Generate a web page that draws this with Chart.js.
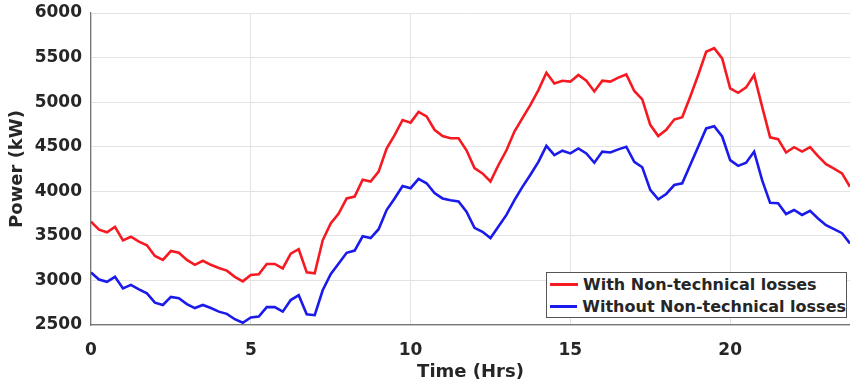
<!DOCTYPE html>
<html>
<head>
<meta charset="utf-8">
<script src="https://cdn.jsdelivr.net/npm/chart.js@4/dist/chart.umd.min.js"></script>
<style>
html,body{margin:0;padding:0;background:#fff;overflow:hidden}
.wrap{position:relative;width:850px;height:387px}
.legend{position:absolute;left:546px;top:272px;width:299px;height:44px;border:1px solid #555;background:#fff;
  font:bold 16px "DejaVu Sans",sans-serif;color:#262626}
.legend div{display:flex;align-items:center;height:22px;white-space:nowrap}
.legend i{display:inline-block;width:28px;height:3px;margin:0 5px 0 3px}
</style>
</head>
<body>
<div class="wrap">
  <canvas id="chart" width="850" height="387"></canvas>
  <div class="legend" id="legend"></div>
</div>
<script>
// load profile, 15 min steps from 0 h
const stepHrs = 0.25;
const withLosses = [
  3660,3570,3540,3600,3450,3490,3435,3395,3275,3230,3330,3310,3230,3175,3220,3175,
  3140,3110,3040,2990,3060,3070,3185,3185,3135,3300,3350,3090,3080,3450,3640,3750,
  3920,3940,4130,4110,4220,4480,4630,4800,4770,4890,4840,4690,4620,4595,4595,4460,
  4260,4200,4110,4295,4460,4670,4820,4970,5135,5330,5210,5240,5230,5305,5240,5120,
  5240,5230,5275,5310,5125,5030,4745,4620,4690,4805,4830,5060,5305,5565,5605,5490,
  5155,5105,5165,5305,4950,4605,4585,4435,4495,4445,4495,4395,4305,4255,4200,4050
];
const withoutLosses = [
  3090,3010,2985,3040,2910,2950,2900,2855,2750,2725,2815,2800,2735,2690,2725,2690,
  2650,2625,2565,2525,2585,2595,2700,2700,2650,2780,2835,2620,2610,2890,3070,3190,
  3310,3335,3495,3475,3575,3790,3920,4060,4035,4140,4090,3980,3920,3900,3885,3770,
  3590,3545,3475,3605,3735,3900,4050,4185,4330,4510,4405,4455,4425,4480,4425,4320,
  4445,4435,4470,4500,4330,4270,4015,3910,3970,4070,4090,4295,4500,4705,4730,4615,
  4350,4285,4320,4445,4125,3870,3865,3745,3790,3735,3780,3695,3620,3575,3530,3415
];
const xTicks = [0,5,10,15,20];
const yTicks = [2500,3000,3500,4000,4500,5000,5500,6000];
const seriesNames = ["With Non-technical losses","Without Non-technical losses"];
const seriesColors = ["#f51a22","#1a1aeb"];

const txt = "#262626";
const toPts = arr => arr.map((v,i)=>({x:i*stepHrs,y:v}));

new Chart(document.getElementById("chart"),{
  type:"line",
  data:{datasets:[
    {label:seriesNames[0],data:toPts(withLosses),borderColor:seriesColors[0],borderWidth:2.6,pointRadius:0,tension:0},
    {label:seriesNames[1],data:toPts(withoutLosses),borderColor:seriesColors[1],borderWidth:2.6,pointRadius:0,tension:0}
  ]},
  options:{
    responsive:false,animation:false,
    layout:{padding:{top:13,right:0,left:0,bottom:0}},
    plugins:{legend:{display:false},tooltip:{enabled:false}},
    scales:{
      x:{type:"linear",min:0,max:(withLosses.length-1)*stepHrs,
        afterBuildTicks:s=>{s.ticks=xTicks.map(v=>({value:v}))},
        afterFit:s=>{s.height=62;s.paddingLeft=0;s.paddingRight=0},
        grid:{color:"#e3e3e3",drawTicks:false},
        border:{color:"#777",width:1.2},
        ticks:{color:txt,padding:15,font:{family:"DejaVu Sans",weight:"bold",size:17}},
        title:{display:true,text:"Time (Hrs)",color:txt,padding:{bottom:4},font:{family:"DejaVu Sans",weight:"bold",size:18}}
      },
      y:{min:2500,max:6000,
        afterBuildTicks:s=>{s.ticks=yTicks.map(v=>({value:v}))},
        afterFit:s=>{s.width=91;s.paddingTop=0;s.paddingBottom=0},
        grid:{color:"#e3e3e3",drawTicks:false},
        border:{color:"#777",width:1.2},
        ticks:{color:txt,padding:9,callback:v=>String(v),font:{family:"DejaVu Sans",weight:"bold",size:17}},
        title:{display:true,text:"Power (kW)",color:txt,padding:{top:7},font:{family:"DejaVu Sans",weight:"bold",size:18}}
      }
    }
  }
});

const lg=document.getElementById("legend");
seriesNames.forEach((n,i)=>{
  const d=document.createElement("div");
  d.innerHTML=`<i style="background:${seriesColors[i]}"></i><span>${n}</span>`;
  lg.appendChild(d);
});
</script>
</body>
</html>
